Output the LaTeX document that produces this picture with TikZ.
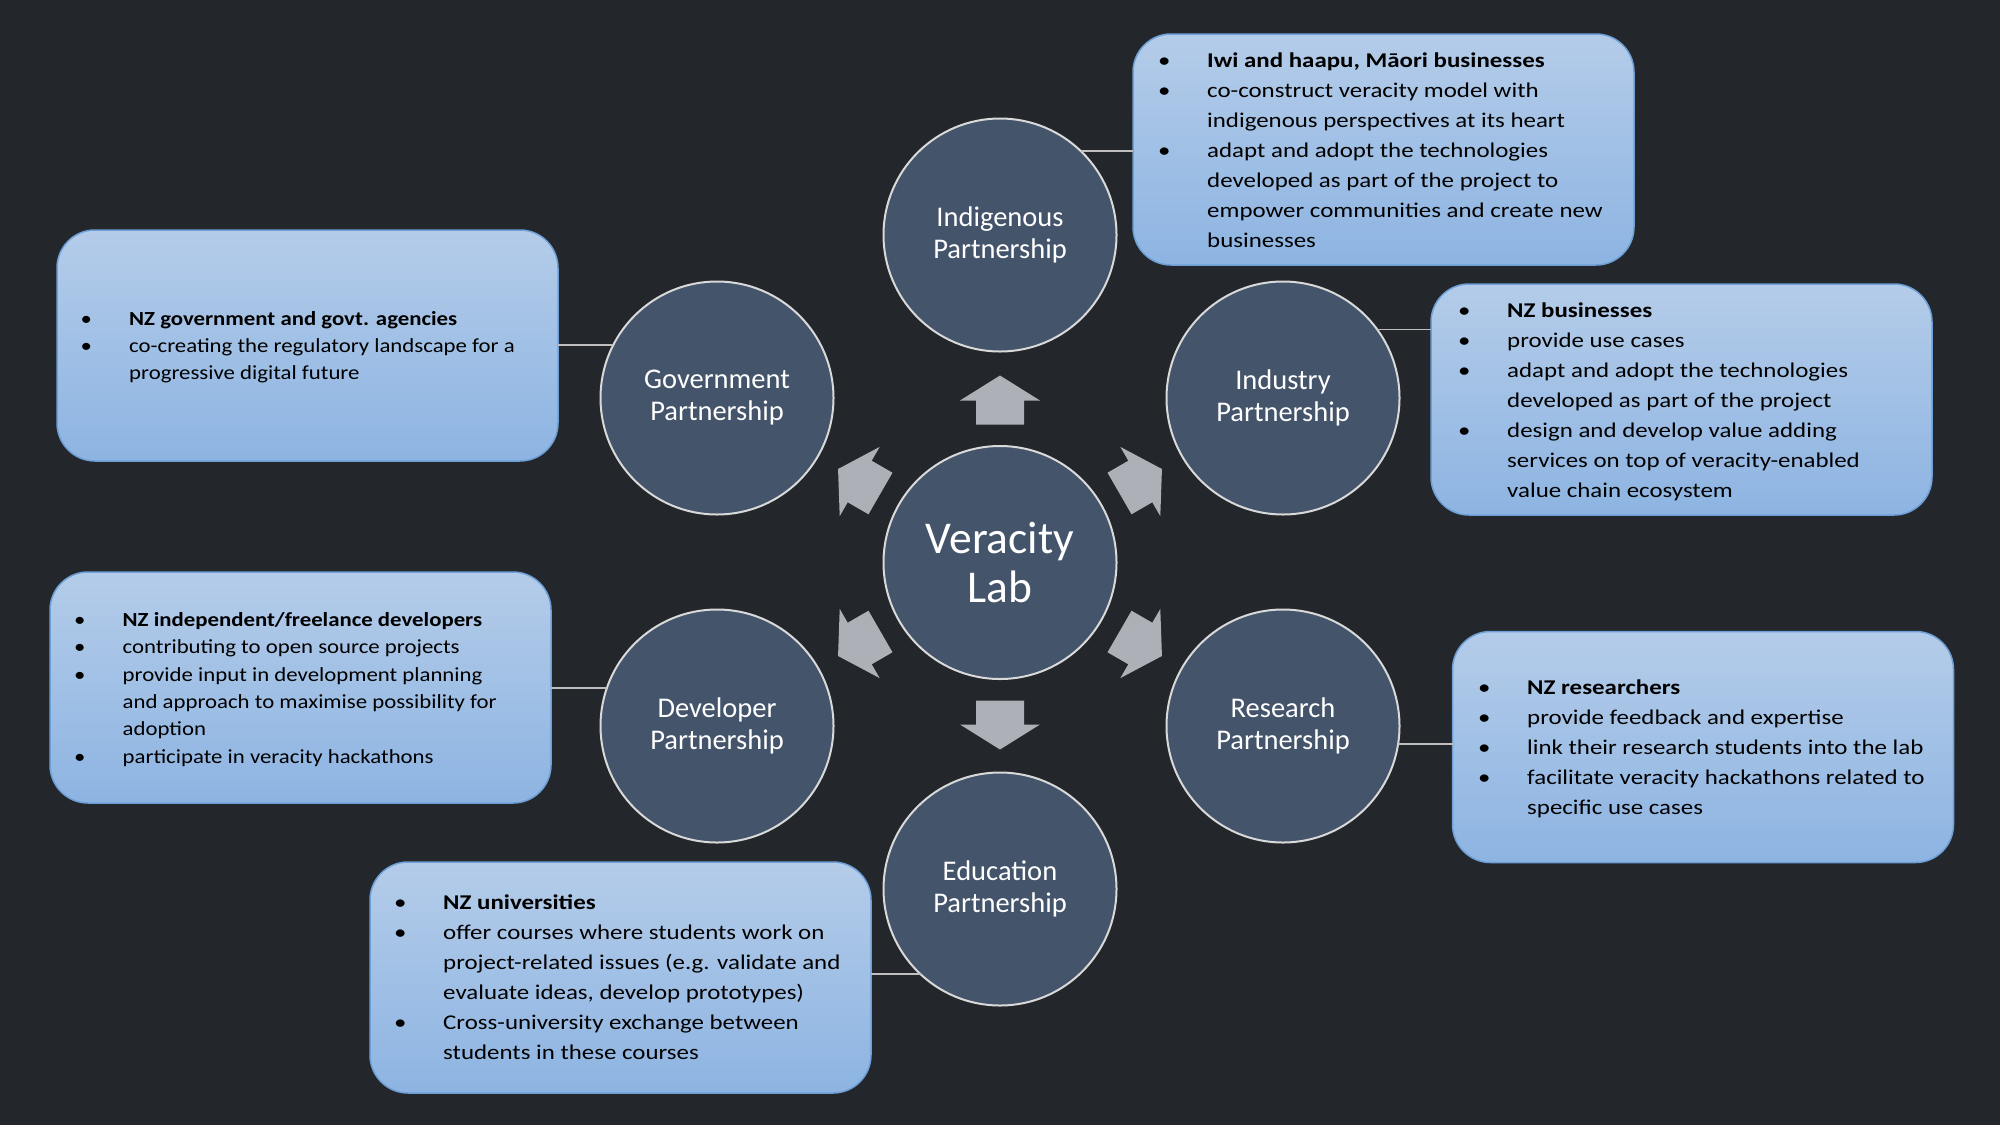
\documentclass[tikz,border=0pt]{standalone}
\usepackage{fontspec}
\setmainfont{Carlito}
\newfontfamily\boxfont[FakeStretch=1.186]{Carlito}
\newfontfamily\smallboxfont[FakeStretch=1.14]{Carlito}
\usepackage{array}
\definecolor{bg}{HTML}{23272B}
\definecolor{circfill}{HTML}{44546A}
\definecolor{ring}{HTML}{D9D9D9}
\definecolor{arrowgray}{HTML}{ADB0B6}
\definecolor{boxtop}{HTML}{B4CCE9}
\definecolor{boxbot}{HTML}{8DB4E2}
\definecolor{boxedge}{HTML}{6E9FD6}
\definecolor{linkgray}{HTML}{BFBFBF}
% bullet list: bullet centred on the node's west edge, text 43pt to its right
\newcommand{\bl}{\makebox[0pt]{\textbullet}}
\newenvironment{blist}{\begin{tabular}[t]{@{}l@{\hspace{43pt}}l@{}}}{\end{tabular}}
\tikzset{
  partner/.style={circle, draw=ring, line width=2pt, fill=circfill, minimum size=233pt,
    inner sep=0pt, outer sep=0pt, text=white, align=center,
    font=\fontsize{28.5}{32}\selectfont},
  infobox/.style={rectangle, rounded corners=38pt, draw=boxedge, line width=1.5pt,
    top color=boxtop, bottom color=boxbot, minimum width=501pt, minimum height=231pt,
    inner sep=0pt, outer sep=0pt},
  bigtext/.style={anchor=base west, inner sep=0pt, text=black, font=\boxfont\fontsize{21}{30}\selectfont},
  smalltext/.style={anchor=base west, inner sep=0pt, text=black, font=\smallboxfont\fontsize{20}{27.4}\selectfont},
  link/.style={draw=linkgray, line width=1.5pt},
  blockarrow/.style={fill=arrowgray, draw=none}
}
\begin{document}
\begin{tikzpicture}[x=1pt,y=-1pt]
\useasboundingbox (0,0) rectangle (2000,1125);
\fill[bg] (0,0) rectangle (2000,1125);

% centre and partner circles
\node[partner, font=\fontsize{45.5}{49.3}\selectfont] (lab) at (1000,562.5) {Veracity\\Lab};
\node[partner] (indig) at (1000,235) {Indigenous\\Partnership};
\node[partner] (gov)   at (717,398)  {Government\\Partnership};
\node[partner] (indus) at (1283,398) {Industry\\Partnership};
\node[partner] (dev)   at (717,726)  {Developer\\Partnership};
\node[partner] (res)   at (1283,726) {Research\\Partnership};
\node[partner] (edu)   at (1000,889) {Education\\Partnership};

% block arrows radiating from the centre
\foreach \a in {30,90,150,210,270,330}{
  \begin{scope}[shift={(lab.center)}, rotate=\a]
    \path[blockarrow] (138,-24) -- (162,-24) -- (162,-40) -- (187,0) -- (162,40) -- (162,24) -- (138,24) -- cycle;
  \end{scope}
}

% description boxes
\node[infobox] (indigbox) at (1383.5,149.5) {};
\node[infobox] (govbox)   at (307.5,345.5) {};
\node[infobox] (indusbox) at (1681.5,399.5) {};
\node[infobox] (devbox)   at (300.5,687.5) {};
\node[infobox] (resbox)   at (1703,747) {};
\node[infobox] (edubox)   at (620.5,977.5) {};

% connectors
\draw[link] (indig.46.4) -- (indig.46.4 -| indigbox.west);
\draw[link] (gov.153.2) -- (gov.153.2 -| govbox.east);
\draw[link] (indus.36.6) -- (indus.36.6 -| indusbox.west);
\draw[link] (dev.161.1) -- (dev.161.1 -| devbox.east);
\draw[link] (res.-9.8) -- (res.-9.8 -| resbox.west);
\draw[link] (edu.227.7) -- (edu.227.7 -| edubox.east);

% box texts
\node[bigtext] (indigtext) at (1164,67.3) {\begin{blist}
\bl & \textbf{Iwi and haapu, Māori businesses}\\
\bl & co-construct veracity model with\\
    & indigenous perspectives at its heart\\
\bl & adapt and adopt the technologies\\
    & developed as part of the project to\\
    & empower communities and create new\\
    & businesses
\end{blist}};

\node[smalltext] (govtext) at (86,325) {\begin{blist}
\bl & \textbf{NZ government and govt. agencies}\\
\bl & co-creating the regulatory landscape for a\\
    & progressive digital future
\end{blist}};

\node[bigtext] (industext) at (1464,317.3) {\begin{blist}
\bl & \textbf{NZ businesses}\\
\bl & provide use cases\\
\bl & adapt and adopt the technologies\\
    & developed as part of the project\\
\bl & design and develop value adding\\
    & services on top of veracity-enabled\\
    & value chain ecosystem
\end{blist}};

\node[smalltext] (devtext) at (79.5,626.3) {\begin{blist}
\bl & \textbf{NZ independent/freelance developers}\\
\bl & contributing to open source projects\\
\bl & provide input in development planning\\
    & and approach to maximise possibility for\\
    & adoption\\
\bl & participate in veracity hackathons
\end{blist}};

\node[bigtext] (restext) at (1484,694.7) {\begin{blist}
\bl & \textbf{NZ researchers}\\
\bl & provide feedback and expertise\\
\bl & link their research students into the lab\\
\bl & facilitate veracity hackathons related to\\
    & specific use cases
\end{blist}};

\node[bigtext] (edutext) at (400,909.7) {\begin{blist}
\bl & \textbf{NZ universities}\\
\bl & offer courses where students work on\\
    & project-related issues (e.g. validate and\\
    & evaluate ideas, develop prototypes)\\
\bl & Cross-university exchange between\\
    & students in these courses
\end{blist}};
\end{tikzpicture}
\end{document}
